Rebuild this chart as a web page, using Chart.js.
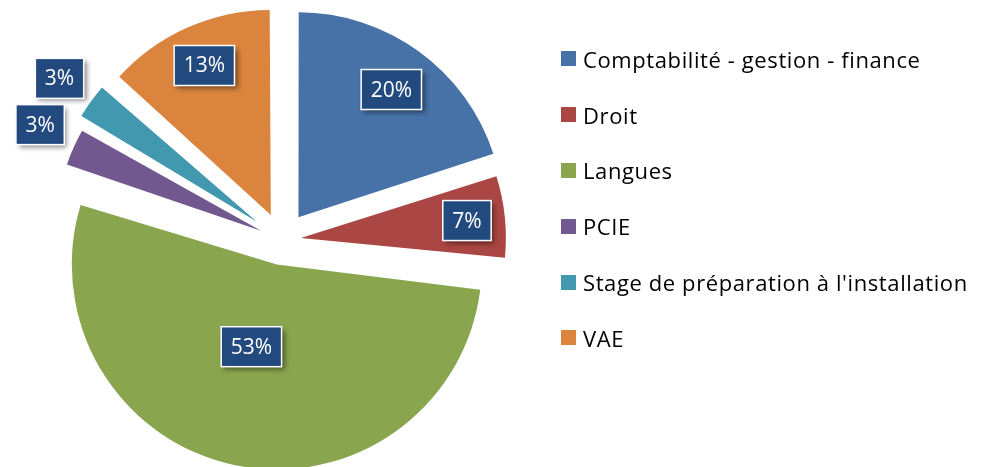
<!DOCTYPE html>
<html>
<head>
<meta charset="utf-8">
<script src="https://cdn.jsdelivr.net/npm/chart.js@4/dist/chart.umd.min.js"></script>
<style>
  html, body { margin:0; padding:0; background:#fff; }
  #wrap { position:relative; width:986px; height:467px; overflow:hidden; }
  #legend { position:absolute; left:561px; top:31px; font-family:'Open Sans', sans-serif;
            font-size:22px; letter-spacing:0.6px; color:#000; }
  .legend-item { display:flex; align-items:center; height:55.8px; white-space:nowrap; }
  .legend-dot { width:15px; height:15px; margin-right:7px; flex:none; }
</style>
</head>
<body>
<div id="wrap">
  <canvas id="pie"></canvas>
  <div id="legend"></div>
</div>
<script>
// ── Data ─────────────────────────────────────────────────────
const categories = ['Comptabilité - gestion - finance', 'Droit', 'Langues', 'PCIE',
                    "Stage de préparation à l'installation", 'VAE'];
const values     = [6, 2, 16, 1, 1, 4];
const colors     = ['#4672A8', '#AA4643', '#89A54E', '#71588F', '#4198AF', '#DB843D'];

// explosion per slice (px); Chart.js draws arcs shifted by offset / 4
const explode    = [28, 19, 25, 23, 31, 27.5];
const pieRadius  = 205;

// label placement: distance from pie centre (px) and angle nudge (deg)
const labelDist  = [186, 186, 111, 268, 275, 191];
const labelNudge = [0, 0, 4, 1.5, 0, 0];

// Chart.js also grows an exploded arc's radius by offset*(1-sin(circ));
// undo that so every slice keeps the same radius
const keepRadius = {
  id:'keepRadius',
  beforeDatasetsDraw(chart) {
    chart.getDatasetMeta(0).data.forEach((arc, i) => {
      const circ = arc.endAngle - arc.startAngle;
      arc.outerRadius = pieRadius - explode[i] * (1 - Math.sin(Math.min(Math.PI, circ)));
    });
  }
};

// ── Box labels ───────────────────────────────────────────────
const boxLabels = {
  id:'boxLabels',
  afterDatasetsDraw(chart) {
    const ctx = chart.ctx, meta = chart.getDatasetMeta(0);
    const total = values.reduce((a, b) => a + b, 0);
    ctx.save();
    ctx.font = "21px 'Open Sans', sans-serif";
    ctx.textAlign = 'center'; ctx.textBaseline = 'middle';
    meta.data.forEach((arc, i) => {
      const mid = (arc.startAngle + arc.endAngle) / 2 + labelNudge[i] * Math.PI / 180;
      const x = arc.x + Math.cos(mid) * labelDist[i];
      const y = arc.y + Math.sin(mid) * labelDist[i];
      const txt = Math.round(values[i] / total * 100) + '%';
      const w = ctx.measureText(txt).width + 19, h = 40;
      ctx.shadowColor = 'rgba(0,0,0,0.45)'; ctx.shadowBlur = 5;
      ctx.shadowOffsetX = 3; ctx.shadowOffsetY = 3;
      ctx.fillStyle = '#234A7E';
      ctx.fillRect(x - w / 2, y - h / 2, w, h);
      ctx.shadowColor = 'transparent';
      ctx.strokeStyle = '#fff'; ctx.lineWidth = 1.5;
      ctx.strokeRect(x - w / 2, y - h / 2, w, h);
      ctx.fillStyle = '#fff';
      ctx.fillText(txt, x, y + 1);
    });
    ctx.restore();
  }
};

new Chart(document.getElementById('pie'), {
  type:'pie',
  data:{ labels:categories, datasets:[{ data:values, backgroundColor:colors,
    borderWidth:0, offset:explode.map(e => e * 4), hoverOffset:0, clip:false }] },
  options:{
    responsive:true, maintainAspectRatio:false, animation:false, events:[],
    radius:pieRadius,
    layout:{ padding:{ left:0, right:422, top:13, bottom:0 } },
    plugins:{ legend:{ display:false }, tooltip:{ enabled:false } },
  },
  plugins:[keepRadius, boxLabels],
});

document.getElementById('legend').innerHTML = categories.map((l, i) =>
  `<div class="legend-item"><div class="legend-dot" style="background:${colors[i]}"></div>${l}</div>`
).join('');
</script>
</body>
</html>
